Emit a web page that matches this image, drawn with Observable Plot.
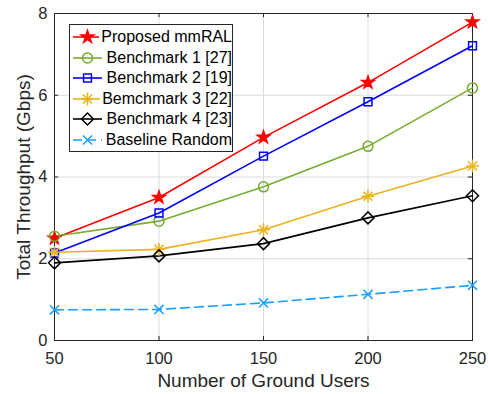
<!DOCTYPE html>
<html>
<head>
<meta charset="utf-8">
<script src="https://cdn.jsdelivr.net/npm/d3@7"></script>
<script src="https://cdn.jsdelivr.net/npm/@observablehq/plot@0.6"></script>
<style>
  html, body { margin: 0; padding: 0; background: #fff; }
  #wrap { position: relative; width: 488px; height: 394px; font-family: "Liberation Sans", Arial, sans-serif; }
  #legend { position: absolute; left: 69px; top: 24px; width: 164px; height: 128px; border: 1px solid #262626; background: #fff; box-sizing: border-box; padding-top: 2px; }
  .row { display: flex; align-items: center; height: 20.5px; }
  .row span { font-size: 16px; color: #000; margin-left: 2px; white-space: nowrap; }
</style>
</head>
<body>
<div id="wrap"><div id="chart"></div><div id="legend"></div></div>
<script>
const users = [50, 100, 150, 200, 250];
const proposed = [2.50, 3.50, 4.97, 6.31, 7.79];
const bench1 = [2.55, 2.92, 3.76, 4.75, 6.18];
const bench2 = [2.14, 3.12, 4.51, 5.84, 7.21];
const bench3 = [2.16, 2.23, 2.71, 3.53, 4.27];
const bench4 = [1.90, 2.07, 2.37, 3.00, 3.54];
const baseline = [0.75, 0.76, 0.92, 1.13, 1.35];
const xTicks = [50, 100, 150, 200, 250];
const yTicks = [0, 2, 4, 6, 8];
const xLabel = "Number of Ground Users";
const yLabel = "Total Throughput (Gbps)";

const series = [
  {name: "Proposed mmRAL", values: proposed, color: "#FF0000", symbols: ["star"], r: 3.9, fill: true, dash: null},
  {name: "Benchmark 1 [27]", values: bench1, color: "#77AC30", symbols: ["circle"], r: 5, fill: false, dash: null},
  {name: "Benchmark 2 [19]", values: bench2, color: "#0000FF", symbols: ["square2"], r: 5, fill: false, dash: null},
  {name: "Bemchmark 3 [22]", values: bench3, color: "#EDB120", symbols: ["plus", "times"], r: 4.2, fill: false, dash: null},
  {name: "Benchmark 4 [23]", values: bench4, color: "#000000", symbols: ["diamond2"], r: 5.4, fill: false, dash: null},
  {name: "Baseline Random", values: baseline, color: "#1A9FFF", symbols: ["times"], r: 4.2, fill: false, dash: "9,5"}
];

const rows = series.flatMap(s => users.map((u, i) => ({series: s.name, x: u, y: s.values[i]})));

const marks = [
  Plot.gridX(xTicks, {stroke: "#dcdcdc", strokeOpacity: 1, strokeWidth: 1}),
  Plot.gridY(yTicks, {stroke: "#dcdcdc", strokeOpacity: 1, strokeWidth: 1}),
  Plot.ruleX(xTicks, {x: d => d, y1: 0, y2: 0.1, stroke: "#262626"}),
  Plot.ruleX(xTicks, {x: d => d, y1: 8, y2: 7.9, stroke: "#262626"}),
  Plot.ruleY(yTicks, {y: d => d, x1: 50, x2: 52, stroke: "#262626"}),
  Plot.ruleY(yTicks, {y: d => d, x1: 250, x2: 248, stroke: "#262626"}),
  Plot.frame({stroke: "#262626", strokeWidth: 1})
];
for (const s of series) {
  const d = rows.filter(r => r.series === s.name);
  marks.push(Plot.line(d, {x: "x", y: "y", stroke: s.color, strokeWidth: 1.6, strokeDasharray: s.dash}));
}
for (const s of series) {
  const d = rows.filter(r => r.series === s.name);
  for (const sym of s.symbols) {
    marks.push(Plot.dot(d, {x: "x", y: "y", symbol: () => sym, r: s.r, stroke: s.color, strokeWidth: 1.5, fill: s.fill ? s.color : "none"}));
  }
}

const chart = Plot.plot({
  width: 488,
  height: 394,
  marginLeft: 54,
  marginRight: 16,
  marginTop: 13,
  marginBottom: 54,
  style: {fontFamily: "Liberation Sans, Arial, sans-serif", fontSize: "16px", color: "#262626", background: "#fff"},
  symbol: {type: "identity"},
  x: {domain: [50, 250], ticks: xTicks, label: null},
  y: {domain: [0, 8], ticks: yTicks, label: null},
  marks: [
    ...marks,
    Plot.axisX(xTicks, {tickSize: 0, tickPadding: 12, fontSize: 16.5, fill: "#262626", label: null}),
    Plot.axisY(yTicks, {tickSize: 0, tickPadding: 7, fontSize: 16.5, fill: "#262626", label: null}),
    Plot.text([xLabel], {frameAnchor: "bottom", dy: 46, fontSize: 19, fill: "#262626", text: d => d}),
    Plot.text([yLabel], {frameAnchor: "left", textAnchor: "middle", dx: -31, rotate: -90, fontSize: 19, fill: "#262626", text: d => d})
  ]
});
document.getElementById("chart").appendChild(chart);

// Legend
const leg = d3.select("#legend");
for (const s of series) {
  const row = leg.append("div").attr("class", "row");
  const svg = row.append("svg").attr("width", 34).attr("height", 20).style("margin-left", "3px");
  svg.append("line").attr("x1", 0).attr("x2", 29).attr("y1", 10).attr("y2", 10)
    .attr("stroke", s.color).attr("stroke-width", 1.6).attr("stroke-dasharray", s.dash);
  const symMap = {star: d3.symbolStar, circle: d3.symbolCircle, square2: d3.symbolSquare2, plus: d3.symbolPlus, times: d3.symbolTimes, diamond2: d3.symbolDiamond2};
  for (const sym of s.symbols) {
    svg.append("path").attr("transform", "translate(14.5,10)")
      .attr("d", d3.symbol(symMap[sym], s.r * s.r * Math.PI)())
      .attr("stroke", s.color).attr("stroke-width", 1.5).attr("fill", s.fill ? s.color : "none");
  }
  row.append("span").text(s.name);
}
</script>
</body>
</html>
